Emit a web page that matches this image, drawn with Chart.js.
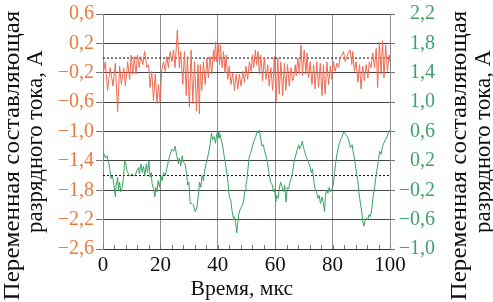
<!DOCTYPE html>
<html>
<head>
<meta charset="utf-8">
<script src="https://cdn.jsdelivr.net/npm/chart.js@4/dist/chart.umd.min.js"></script>
</head>
<body style="margin:0">
<div id="wrap" style="position:relative;width:493px;height:302px;overflow:hidden"><canvas id="c" width="493" height="302"></canvas></div>
<script>
// ---- data ----
const X_TICKS = [0, 20, 40, 60, 80, 100];
const X_MINOR_STEP = 4;
const Y_LEFT_TICKS = [0.6, 0.2, -0.2, -0.6, -1.0, -1.4, -1.8, -2.2, -2.6];
const Y_RIGHT_TICKS = [2.2, 1.8, 1.4, 1.0, 0.6, 0.2, -0.2, -0.6, -1.0];
const X_TITLE = 'Время, мкс';
const Y_TITLE = ['Переменная составляющая', 'разрядного тока, А'];

const redT = [0,0.8,1.6,2.5,3.5,4.3,5.1,5.8,6.4,7.2,7.8,8.6,9.3,9.8,10.4,10.9,11.5,12.0,12.6,13.2,13.9,14.5,15.3,15.9,16.4,17.0,17.6,18.2,18.8,19.3,19.9,20.5,21.1,21.7,22.2,22.8,23.4,24.0,24.6,25.1,25.9,26.6,27.1,27.8,28.4,29.0,29.4,30.1,30.7,31.3,31.9,32.6,33.1,33.6,33.9,34.4,35.0,35.6,36.2,36.7,37.3,37.9,38.5,38.8,39.2,39.6,40.1,40.6,40.9,41.5,42.0,42.5,42.9,43.5,44.0,44.6,45.2,45.8,46.4,47.0,47.5,48.1,48.7,49.3,49.8,50.4,51.0,51.6,52.1,52.5,53.1,53.5,54.0,54.5,55.0,55.6,56.2,56.8,57.4,57.9,58.5,59.1,59.7,60.3,60.9,61.4,62.0,62.6,63.2,63.7,64.3,64.9,65.5,66.1,66.4,67.0,67.3,67.9,68.4,69.0,69.5,70.1,70.7,71.1,71.6,72.2,72.8,73.4,73.9,74.5,75.1,75.7,76.3,76.8,77.4,78.0,78.6,79.2,79.7,80.3,80.9,81.5,82.1,82.6,83.2,83.8,84.4,84.9,85.5,86.1,86.7,87.0,87.6,88.2,88.8,89.4,89.9,90.5,91.1,91.7,92.3,92.8,93.4,94.0,94.6,95.2,95.7,96.3,96.9,97.4,97.9,98.5,99.1,99.7,100];
const redV = [-0.24,-0.05,-0.44,-0.13,-0.38,-0.07,-0.73,-0.11,-0.36,-0.13,-0.38,-0.05,-0.29,0.04,-0.22,0.02,-0.22,0.04,-0.13,0.02,-0.09,0.09,-0.13,-0.09,-0.40,-0.18,-0.58,-0.22,-0.62,-0.36,-0.60,-0.16,-0.05,-0.18,0.02,-0.13,0.09,-0.05,0.11,-0.13,0.38,-0.13,0.09,-0.36,0.09,-0.51,0.02,-0.67,0.11,-0.62,-0.05,-0.72,-0.09,-0.76,-0.09,-0.44,-0.05,-0.36,0.0,-0.27,0.02,-0.22,0.11,-0.05,0.22,-0.05,0.20,-0.09,0.18,-0.13,0.09,-0.20,0.04,-0.29,-0.11,-0.36,-0.20,-0.44,-0.22,-0.42,-0.22,-0.38,-0.18,-0.33,-0.11,-0.29,-0.05,-0.18,0.04,-0.13,0.11,-0.09,0.09,-0.22,0.04,-0.31,0.0,-0.29,-0.09,-0.38,-0.13,-0.44,0.02,-0.60,0.0,-0.49,-0.05,-0.51,-0.07,-0.44,-0.09,-0.38,-0.13,-0.31,-0.27,-0.09,-0.24,0.0,-0.22,0.18,-0.24,0.11,-0.22,0.07,-0.27,-0.05,-0.36,-0.09,-0.42,-0.05,-0.40,-0.07,-0.51,-0.09,-0.49,-0.05,-0.36,-0.11,-0.29,-0.05,-0.18,-0.07,-0.13,0.0,0.04,0.09,-0.05,0.02,0.07,0.11,-0.09,0.09,-0.18,-0.05,-0.33,-0.09,-0.42,-0.11,-0.31,-0.09,-0.27,-0.05,-0.13,0.07,-0.13,0.13,-0.40,0.22,-0.22,0.24,-0.27,0.18,-0.18,0.04,-0.05];

const greenT = [0,0.45,0.9,1.4,1.96,2.3,2.8,3.2,3.7,4.3,4.6,5.1,5.4,5.8,6.2,6.7,7.2,7.5,7.9,8.3,8.9,9.5,10.1,10.7,11.2,11.8,12.4,12.7,13.2,13.7,14.1,14.6,15.1,15.5,16.0,16.4,16.8,17.1,17.6,18.1,18.4,18.8,19.2,19.7,20.2,20.6,21.1,21.7,22.2,22.8,23.4,24.0,24.6,25.1,25.7,26.3,26.6,27.1,27.6,28.0,28.6,29.2,29.5,29.9,30.4,31.0,31.5,32.1,32.7,33.3,33.6,34.1,34.5,35.0,35.3,35.9,36.4,36.8,37.3,37.8,38.2,38.7,39.2,39.6,40.1,40.4,40.8,41.2,41.7,42.2,42.6,43.1,43.6,44.0,44.5,45.0,45.4,45.8,46.2,46.6,46.9,47.3,47.7,48.3,48.9,49.5,49.8,50.1,50.5,51.0,51.5,52.05,52.6,53.2,53.8,54.1,54.5,54.9,55.4,55.9,56.3,56.8,57.3,57.8,58.4,59.0,59.35,59.8,60.2,60.5,61.0,61.4,61.9,62.4,62.8,63.3,63.8,64.2,64.7,65.1,65.6,66.1,66.5,67.1,67.7,68.2,68.5,69.0,69.4,69.8,70.2,70.7,71.2,71.6,72.1,72.6,73.0,73.5,73.9,74.4,74.9,75.3,75.8,76.3,76.7,77.2,77.5,77.9,78.4,78.8,79.3,79.7,80.2,80.7,81.1,81.6,82.2,82.8,83.3,83.9,84.5,85.1,85.7,86.2,86.8,87.2,87.7,88.3,88.8,89.2,89.7,90.2,90.5,90.9,91.3,91.8,92.3,92.7,93.2,93.7,94.1,94.6,95.0,95.5,96.0,96.4,96.9,97.4,97.8,98.4,99.0,99.6,100];
const greenV = [0.20,0.29,0.24,0.27,0.18,0.11,-0.04,0.0,-0.09,-0.29,-0.13,-0.02,-0.20,-0.09,-0.22,-0.16,0.0,0.20,0.18,0.07,0.02,0.0,0.02,0.0,0.0,0.07,0.11,0.02,0.16,0.04,0.13,0.0,0.16,0.04,0.20,-0.02,0.04,-0.11,-0.18,-0.29,-0.16,-0.22,-0.07,-0.16,0.0,-0.07,0.04,0.0,0.09,0.20,0.29,0.36,0.33,0.40,0.27,0.16,0.24,0.13,0.27,0.18,0.16,0.0,-0.13,-0.09,-0.38,-0.38,-0.40,-0.49,-0.44,-0.24,-0.09,-0.16,0.0,-0.07,0.04,0.16,0.24,0.31,0.42,0.58,0.49,0.53,0.44,0.56,0.60,0.51,0.56,0.49,0.40,0.27,0.18,0.04,-0.11,-0.29,-0.33,-0.49,-0.58,-0.56,-0.64,-0.78,-0.67,-0.53,-0.47,-0.42,-0.36,-0.20,-0.12,-0.07,0.09,0.27,0.31,0.40,0.47,0.53,0.60,0.58,0.62,0.51,0.40,0.42,0.33,0.27,0.18,0.04,-0.09,-0.13,-0.22,-0.18,-0.36,-0.27,-0.31,-0.18,-0.09,-0.16,-0.22,-0.13,-0.36,-0.16,-0.18,-0.09,-0.04,0.04,0.18,0.27,0.36,0.42,0.36,0.40,0.47,0.40,0.33,0.27,0.22,0.18,0.13,0.04,0.09,-0.09,-0.18,-0.22,-0.31,-0.27,-0.38,-0.29,-0.36,-0.49,-0.27,-0.20,-0.24,-0.16,-0.22,-0.20,-0.13,0.04,0.18,0.31,0.42,0.49,0.53,0.60,0.56,0.53,0.47,0.38,0.42,0.31,0.22,0.04,-0.07,-0.24,-0.38,-0.51,-0.62,-0.69,-0.62,-0.58,-0.60,-0.53,-0.56,-0.44,-0.29,-0.18,-0.04,0.09,0.22,0.33,0.29,0.40,0.44,0.49,0.53,0.60,0.62];

const RED_ZERO = 0;    // dotted reference level, left axis
const GREEN_ZERO = 0;  // dotted reference level, right axis

// ---- styling ----
const RED = '#EE6B52';
const GREEN = '#3AA262';
const ORANGE_TXT = '#EA7A3E';
const GREEN_TXT = '#40A06C';
const SERIF = '"Liberation Serif", "DejaVu Serif", "Noto Serif", serif';

const fmt = v => (v < -1e-9 ? '\u2212' : '') + Math.abs(v).toFixed(1).replace('.', ',');
const pts = (T, V) => T.map((t, i) => ({x: t, y: V[i]}));

// axis titles as real DOM text over the canvas
const wrap = document.getElementById('wrap');
function addTitle(text, cx, cy, len, size, rotate) {
  const s = document.createElement('span');
  s.textContent = text;
  s.style.cssText = 'position:absolute;white-space:nowrap;line-height:1;color:#111;font-family:' + SERIF + ';font-size:' + size + 'px;left:0;top:0;transform-origin:50% 50%';
  wrap.appendChild(s);
  const w = s.offsetWidth, h = s.offsetHeight;
  s.style.left = (cx - w / 2) + 'px';
  s.style.top = (cy - h / 2) + 'px';
  s.style.transform = (rotate ? 'rotate(-90deg) ' : '') + 'scaleX(' + (len / w) + ')';
}
addTitle(Y_TITLE[0], 12, 155, 290, 23, true);
addTitle(Y_TITLE[1], 34, 141, 183, 23, true);
addTitle(Y_TITLE[0], 459, 155, 290, 23, true);
addTitle(Y_TITLE[1], 482, 141, 183, 23, true);
addTitle(X_TITLE, 241.5, 288, 103, 21, false);

const minorTicks = {
  id: 'minorTicks',
  afterDatasetsDraw(chart) {
    const ctx = chart.ctx, xs = chart.scales.x, area = chart.chartArea;
    ctx.save();
    ctx.strokeStyle = '#777';
    ctx.lineWidth = 1;
    ctx.beginPath();
    for (let t = X_TICKS[0]; t <= X_TICKS[X_TICKS.length - 1]; t += X_MINOR_STEP) {
      const px = Math.round(xs.getPixelForValue(t)) + 0.5;
      ctx.moveTo(px, area.bottom);
      ctx.lineTo(px, area.bottom - 4);
    }
    ctx.stroke();
    ctx.restore();
  }
};

const chart = new Chart(document.getElementById('c'), {
  type: 'line',
  data: {
    datasets: [
      {data: pts(redT, redV), yAxisID: 'y', borderColor: RED, borderWidth: 1, pointRadius: 0, tension: 0},
      {data: pts(greenT, greenV), yAxisID: 'y2', borderColor: GREEN, borderWidth: 1, pointRadius: 0, tension: 0},
      {data: [{x: X_TICKS[0], y: RED_ZERO}, {x: X_TICKS[X_TICKS.length - 1], y: RED_ZERO}], yAxisID: 'y', borderColor: '#000', borderWidth: 1, borderDash: [2, 2], pointRadius: 0},
      {data: [{x: X_TICKS[0], y: GREEN_ZERO}, {x: X_TICKS[X_TICKS.length - 1], y: GREEN_ZERO}], yAxisID: 'y2', borderColor: '#000', borderWidth: 1, borderDash: [2, 2], pointRadius: 0}
    ]
  },
  options: {
    responsive: false,
    animation: false,
    layout: {padding: {top: 8, right: 58, left: 0, bottom: 0}},
    plugins: {legend: {display: false}, tooltip: {enabled: false}},
    scales: {
      x: {
        type: 'linear', min: X_TICKS[0], max: X_TICKS[X_TICKS.length - 1],
        afterBuildTicks: s => { s.ticks = X_TICKS.map(v => ({value: v})); },
        afterFit: s => { s.height = 53; },
        ticks: {font: {family: SERIF, size: 21}, color: '#111', padding: 4, maxRotation: 0, autoSkip: false},
        grid: {color: '#8e8e8e', drawTicks: false},
        border: {color: '#333'}
      },
      y: {
        position: 'left', min: -2.6, max: 0.6,
        afterBuildTicks: s => { s.ticks = Y_LEFT_TICKS.map(v => ({value: v})); },
        afterFit: s => { s.width = 103; },
        ticks: {font: {family: SERIF, size: 20}, color: ORANGE_TXT, padding: 2, autoSkip: false, callback: fmt},
        grid: {color: '#444', tickLength: 7, tickColor: '#777'},
        border: {color: '#8e8e8e'}
      },
      y2: {
        position: 'right', min: -1.0, max: 2.2,
        afterBuildTicks: s => { s.ticks = Y_RIGHT_TICKS.map(v => ({value: v})); },
        afterFit: s => { s.width = 45; },
        ticks: {font: {family: SERIF, size: 20}, color: GREEN_TXT, padding: 2, autoSkip: false, crossAlign: 'far', callback: fmt},
        grid: {drawOnChartArea: false, tickLength: 5, tickColor: '#777'},
        border: {color: '#8e8e8e'}
      }
    }
  },
  plugins: [minorTicks]
});

// redraw once fonts are settled
const redraw = () => chart.update('none');
if (document.fonts && document.fonts.ready) document.fonts.ready.then(redraw);
setTimeout(redraw, 60);
setTimeout(redraw, 250);
</script>
</body>
</html>
